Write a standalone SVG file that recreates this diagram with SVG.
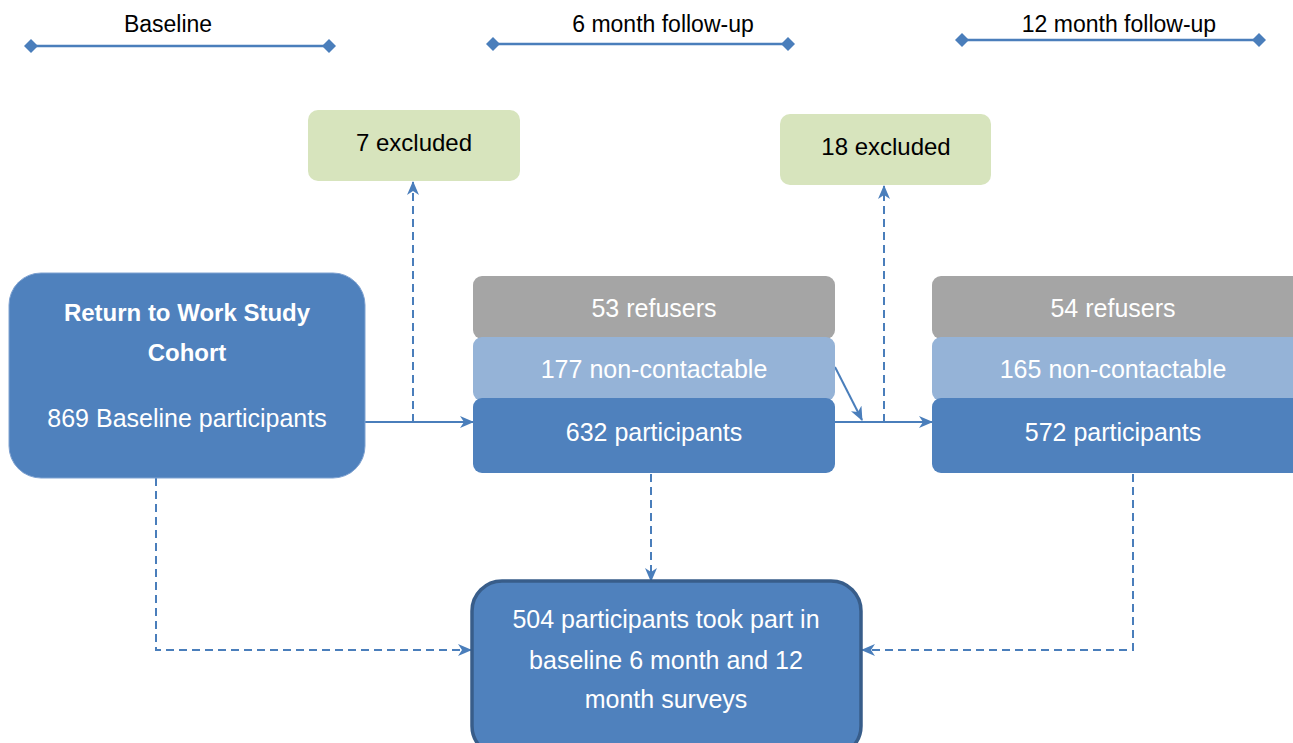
<svg xmlns="http://www.w3.org/2000/svg" width="1293" height="743" viewBox="0 0 1293 743">
<style>
.lbl{font-family:"Liberation Sans",Arial,sans-serif;font-size:23px;fill:#000;text-anchor:middle}
.w{font-family:"Liberation Sans",Arial,sans-serif;font-size:25px;fill:#fff;text-anchor:middle}
.b{font-weight:bold;font-size:24px}
.k{font-family:"Liberation Sans",Arial,sans-serif;font-size:24px;fill:#000;text-anchor:middle}
.dark{fill:#4f81bd}
.light{fill:#95b3d7}
.gray{fill:#a5a5a5}
.green{fill:#d7e4bd}
.tl{stroke:#4a7ebb;stroke-width:2.5;fill:none}
.dia{fill:#4a7ebb}
.c{stroke:#4a7ebb;stroke-width:2;fill:none}
.d{stroke:#4a7ebb;stroke-width:2;fill:none;stroke-dasharray:8,5}
</style>
<defs>
<marker id="ah" viewBox="0 0 14 12" refX="13" refY="6" markerWidth="14" markerHeight="12" markerUnits="userSpaceOnUse" orient="auto">
<path d="M0,0 L14,6 L0,12 L4,6 Z" fill="#4a7ebb"/>
</marker>
</defs>
<rect width="1293" height="743" fill="#fff"/>
<g id="timeline-baseline">
<line class="tl" x1="31" y1="46" x2="329" y2="46"/>
<path class="dia" d="M31,39 L38,46 L31,53 L24,46 Z"/>
<path class="dia" d="M329,39 L336,46 L329,53 L322,46 Z"/>
<text class="lbl" x="168" y="32">Baseline</text>
</g>
<g id="timeline-6m">
<line class="tl" x1="493" y1="44" x2="788" y2="44"/>
<path class="dia" d="M493,37 L500,44 L493,51 L486,44 Z"/>
<path class="dia" d="M788,37 L795,44 L788,51 L781,44 Z"/>
<text class="lbl" x="663" y="32">6 month follow-up</text>
</g>
<g id="timeline-12m">
<line class="tl" x1="962" y1="40" x2="1259" y2="40"/>
<path class="dia" d="M962,33 L969,40 L962,47 L955,40 Z"/>
<path class="dia" d="M1259,33 L1266,40 L1259,47 L1252,40 Z"/>
<text class="lbl" x="1119" y="32">12 month follow-up</text>
</g>
<g id="connectors">
<line class="c" x1="365" y1="422" x2="473" y2="422" marker-end="url(#ah)"/>
<line class="d" x1="413" y1="422" x2="413" y2="182" marker-end="url(#ah)"/>
<line class="c" x1="835" y1="422" x2="932" y2="422" marker-end="url(#ah)"/>
<line class="c" x1="835" y1="367" x2="862" y2="420" marker-end="url(#ah)"/>
<line class="d" x1="884" y1="422" x2="884" y2="186" marker-end="url(#ah)"/>
<line class="d" x1="651" y1="474" x2="651" y2="581" marker-end="url(#ah)"/>
<polyline class="d" points="156,478 156,650 471,650" marker-end="url(#ah)"/>
<polyline class="d" points="1133,474 1133,650 862,650" marker-end="url(#ah)"/>
</g>
<g id="cohort">
<rect class="dark" x="9" y="273" width="356" height="205" rx="32" stroke="#7fa2d1" stroke-width="1"/>
<text class="w b" x="187" y="321">Return to Work Study</text>
<text class="w b" x="187" y="361">Cohort</text>
<text class="w" x="187" y="427">869 Baseline participants</text>
</g>
<g id="excluded-7">
<rect class="green" x="308" y="110" width="212" height="71" rx="10"/>
<text class="k" x="414" y="151">7 excluded</text>
</g>
<g id="excluded-18">
<rect class="green" x="780" y="114" width="211" height="71" rx="10"/>
<text class="k" x="886" y="155">18 excluded</text>
</g>
<g id="refusers-6m">
<rect class="gray" x="473" y="276" width="362" height="63" rx="9"/>
<text class="w" x="654" y="317">53 refusers</text>
</g>
<g id="noncontact-6m">
<rect class="light" x="473" y="337" width="362" height="64" rx="9"/>
<text class="w" x="654" y="378">177 non-contactable</text>
</g>
<g id="participants-6m">
<rect class="dark" x="473" y="398" width="362" height="75" rx="9"/>
<text class="w" x="654" y="441">632 participants</text>
</g>
<g id="refusers-12m">
<rect class="gray" x="932" y="276" width="370" height="63" rx="9"/>
<text class="w" x="1113" y="317">54 refusers</text>
</g>
<g id="noncontact-12m">
<rect class="light" x="932" y="337" width="370" height="64" rx="9"/>
<text class="w" x="1113" y="378">165 non-contactable</text>
</g>
<g id="participants-12m">
<rect class="dark" x="932" y="398" width="370" height="75" rx="9"/>
<text class="w" x="1113" y="441">572 participants</text>
</g>
<g id="final">
<rect class="dark" x="472" y="581" width="389" height="175" rx="30" stroke="#385d8a" stroke-width="3.5"/>
<text class="w" x="666" y="628">504 participants took part in</text>
<text class="w" x="666" y="669">baseline 6 month and 12</text>
<text class="w" x="666" y="708">month surveys</text>
</g>
</svg>
